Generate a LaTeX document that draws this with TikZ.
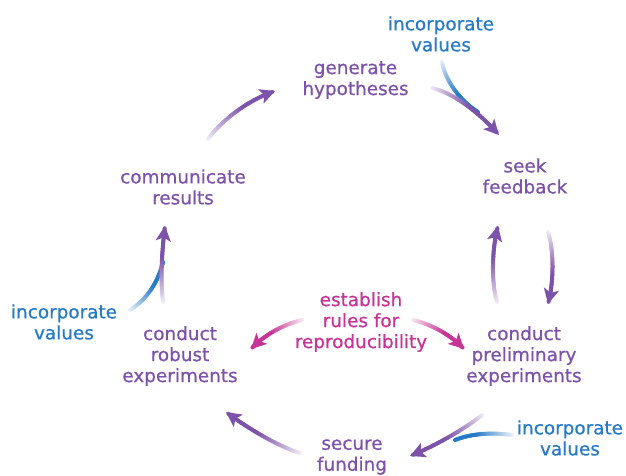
\documentclass[tikz,border=0pt]{standalone}
\usepackage{fontspec}
\setmainfont[FakeBold=0.7]{DejaVu Sans}
\usetikzlibrary{arrows.meta}
\definecolor{purp}{RGB}{125,82,170}
\definecolor{blu}{RGB}{38,122,200}
\definecolor{mag}{RGB}{200,52,150}
\tikzset{
  lbl/.style={align=center, inner sep=0pt, font=\fontsize{18.4bp}{21bp}\selectfont},
  gline/.style={line width=4bp, line cap=round},
  gtip/.style={line width=4bp, -{Stealth[length=15bp,width=15bp,inset=3.5bp]}},
}
% gradient curve: #1 start, #2 c1, #3 c2, #4 end, #5 colour, #6 with tip (1) or not (0)
\newcommand\gcurve[6]{%
  \foreach \k in {1,...,30}{%
    \pgfmathsetmacro\ta{(\k-1)/30}%
    \pgfmathsetmacro\tb{\k/30}%
    \pgfmathtruncatemacro\sh{min(100,6+150*\k/30)}%
    \path #1 .. controls #2 and #3 .. #4 coordinate[pos=\ta] (gu) coordinate[pos=\tb] (gv);
    \ifnum\k<30
      \draw[gline, #5!\sh!white] (gu) -- (gv);
    \else
      \ifnum#6=1
        \path #1 .. controls #2 and #3 .. #4 coordinate[pos=0.88] (gw);
        \draw[gtip, #5] (gw) -- #4;
      \else
        \draw[gline, #5] (gu) -- (gv);
      \fi
    \fi
  }}
\begin{document}
\begin{tikzpicture}[x=1bp,y=-1bp]
\useasboundingbox (0,0) rectangle (626,476);
% text nodes
\node[lbl, text=purp] (gen) at (355.5,80) {generate\\hypotheses};
\node[lbl, text=blu] (iv1) at (441,34) {incorporate\\values};
\node[lbl, text=purp] (seek) at (525,176) {seek\\feedback};
\node[lbl, text=purp] (comm) at (183,187) {communicate\\results};
\node[lbl, text=purp] (rob) at (180,356) {conduct\\robust\\experiments};
\node[lbl, text=blu] (iv2) at (64,322) {incorporate\\values};
\node[lbl, text=mag] (est) at (361,322) {establish\\rules for\\reproducibility};
\node[lbl, text=purp] (pre) at (524,356) {conduct\\preliminary\\experiments};
\node[lbl, text=purp] (sec) at (352,457) {secure\\funding};
\node[lbl, text=blu] (iv3) at (570,438) {incorporate\\values};
% arrow end coordinates
\coordinate (a1s) at (208,139); \coordinate (a1e) at (275,91);
\coordinate (a2s) at (432,88);  \coordinate (a2e) at (499,135);
\coordinate (b1s) at (442,62);  \coordinate (b1e) at (478,112);
\coordinate (a3s) at (548,232); \coordinate (a3e) at (548,304);
\coordinate (a4s) at (497,302); \coordinate (a4e) at (498,226);
\coordinate (a5s) at (482,415); \coordinate (a5e) at (410,456);
\coordinate (b3s) at (512,435); \coordinate (b3e) at (455,440);
\coordinate (a6s) at (300,453); \coordinate (a6e) at (226,412);
\coordinate (a7s) at (163,302); \coordinate (a7e) at (165,226);
\coordinate (b2s) at (130,310); \coordinate (b2e) at (163,262);
\coordinate (m1s) at (302,320); \coordinate (m1e) at (251,349);
\coordinate (m2s) at (413,320); \coordinate (m2e) at (464,349);
% blue feeds
\gcurve{(b1s)}{(445,80)}{(460,101)}{(b1e)}{blu}{0}
\gcurve{(b2s)}{(146,300)}{(158,283)}{(b2e)}{blu}{0}
\gcurve{(b3s)}{(490,432)}{(470,434)}{(b3e)}{blu}{0}
% purple cycle
\gcurve{(a1s)}{(222,120)}{(248,100)}{(a1e)}{purp}{1}
\gcurve{(a2s)}{(450,92)}{(475,108)}{(a2e)}{purp}{1}
\gcurve{(a3s)}{(554,250)}{(554,282)}{(a3e)}{purp}{1}
\gcurve{(a4s)}{(491,282)}{(492,248)}{(a4e)}{purp}{1}
\gcurve{(a5s)}{(470,425)}{(440,444)}{(a5e)}{purp}{1}
\gcurve{(a6s)}{(280,447)}{(250,430)}{(a6e)}{purp}{1}
\gcurve{(a7s)}{(160,280)}{(162,250)}{(a7e)}{purp}{1}
% magenta
\gcurve{(m1s)}{(285,324)}{(265,334)}{(m1e)}{mag}{1}
\gcurve{(m2s)}{(430,324)}{(450,334)}{(m2e)}{mag}{1}
\end{tikzpicture}
\end{document}
